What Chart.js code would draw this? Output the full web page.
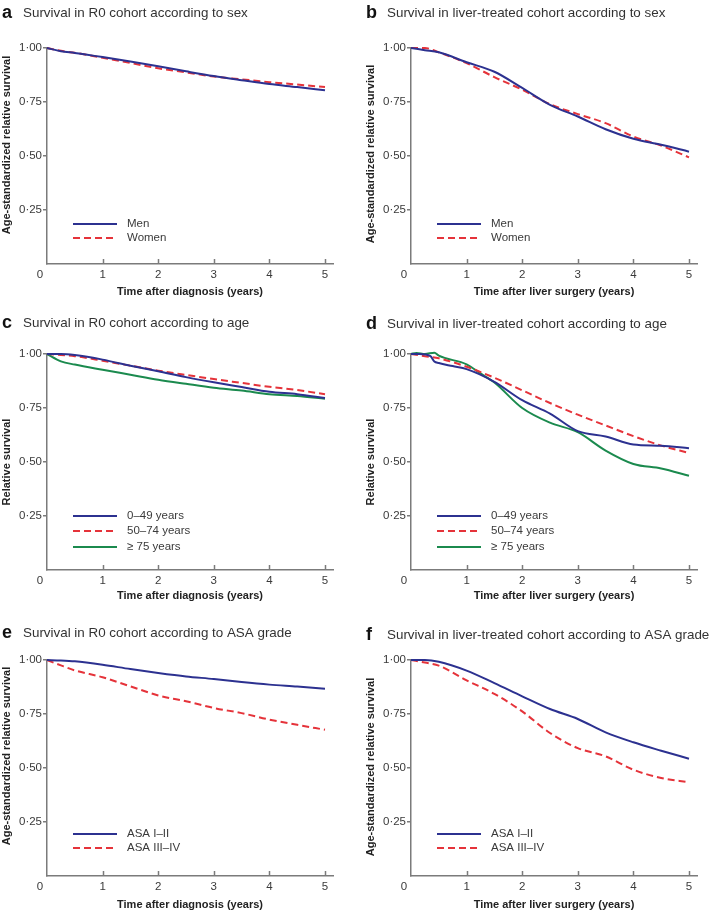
<!DOCTYPE html>
<html>
<head>
<meta charset="utf-8">
<script src="https://cdn.jsdelivr.net/npm/chart.js@4/dist/chart.umd.min.js"></script>
<style>
  html, body { margin: 0; padding: 0; background: #fff; }
  #wrap { position: relative; width: 709px; height: 912px; overflow: hidden; }
  canvas { position: absolute; }
</style>
</head>
<body>
<div id="wrap">
  <canvas id="pa" width="354" height="300" style="left:0px;top:0px;width:354px;height:300px"></canvas>
  <canvas id="pb" width="345" height="300" style="left:364px;top:0px;width:345px;height:300px"></canvas>
  <canvas id="pc" width="354" height="300" style="left:0px;top:306px;width:354px;height:300px"></canvas>
  <canvas id="pd" width="345" height="300" style="left:364px;top:306px;width:345px;height:300px"></canvas>
  <canvas id="pe" width="354" height="300" style="left:0px;top:612px;width:354px;height:300px"></canvas>
  <canvas id="pf" width="345" height="300" style="left:364px;top:612px;width:345px;height:300px"></canvas>
</div>
<script>
// ---------- data ----------
const TIME = [0, 0.25, 0.5, 1, 1.5, 2, 2.5, 3, 3.5, 4, 4.5, 5];
const X_TICKS = [1, 2, 3, 4, 5];
const Y_TICKS = [0, 0.25, 0.5, 0.75, 1.0];

// a: R0 cohort by sex
const A_MEN   = [1.00, 0.985, 0.977, 0.958, 0.937, 0.915, 0.892, 0.870, 0.851, 0.833, 0.819, 0.804];
const A_WOMEN = [1.00, 0.987, 0.978, 0.955, 0.931, 0.906, 0.887, 0.868, 0.855, 0.842, 0.831, 0.819];
// b: liver-treated cohort by sex
const B_MEN   = [1.00, 0.990, 0.980, 0.934, 0.890, 0.815, 0.737, 0.683, 0.624, 0.580, 0.552, 0.520];
const B_WOMEN = [1.00, 1.000, 0.980, 0.930, 0.865, 0.807, 0.740, 0.694, 0.652, 0.590, 0.548, 0.494];
// c: R0 cohort by age
const C_AGE_0_49  = [1.00, 1.000, 0.995, 0.974, 0.946, 0.920, 0.893, 0.869, 0.847, 0.825, 0.814, 0.796];
const C_AGE_50_74 = [1.00, 0.995, 0.990, 0.969, 0.946, 0.923, 0.903, 0.884, 0.866, 0.848, 0.833, 0.814];
const C_AGE_75    = [1.00, 0.966, 0.951, 0.927, 0.904, 0.881, 0.862, 0.844, 0.831, 0.814, 0.805, 0.793];
// d: liver-treated cohort by age
const D_TIME_0_49 = [0, 0.15, 0.35, 0.42, 0.5, 0.75, 1, 1.5, 2, 2.5, 3, 3.5, 4, 4.5, 5];
const D_AGE_0_49  = [1.00, 1.00, 0.99, 0.965, 0.958, 0.944, 0.930, 0.871, 0.786, 0.724, 0.643, 0.618, 0.581, 0.575, 0.564];
const D_AGE_50_74 = [1.00, 0.990, 0.980, 0.941, 0.890, 0.832, 0.773, 0.719, 0.669, 0.620, 0.576, 0.542];
const D_TIME_75   = [0, 0.1, 0.25, 0.42, 0.5, 1, 1.25, 1.5, 2, 2.5, 3, 3.5, 4, 4.5, 5];
const D_AGE_75    = [1.00, 1.005, 1.00, 1.006, 0.992, 0.952, 0.910, 0.868, 0.750, 0.682, 0.638, 0.553, 0.491, 0.470, 0.436];
// e: R0 cohort by ASA grade
const E_ASA_1_2 = [1.00, 0.998, 0.994, 0.978, 0.958, 0.940, 0.924, 0.912, 0.898, 0.886, 0.877, 0.867];
const E_ASA_3_4 = [1.00, 0.975, 0.952, 0.920, 0.878, 0.836, 0.809, 0.778, 0.754, 0.724, 0.700, 0.677];
// f: liver-treated cohort by ASA grade
const F_ASA_1_2 = [1.00, 1.000, 0.992, 0.951, 0.893, 0.832, 0.773, 0.727, 0.665, 0.619, 0.580, 0.543];
const F_ASA_3_4 = [1.00, 0.988, 0.974, 0.906, 0.843, 0.762, 0.662, 0.592, 0.554, 0.492, 0.454, 0.434];

const SEX_LABELS = ['Men', 'Women'];
const AGE_LABELS = ['0–49 years', '50–74 years', '≥ 75 years'];
const ASA_LABELS = ['ASA I–II', 'ASA III–IV'];

// ---------- styles ----------
const BLUE = '#2c3190', RED = '#e5333a', GREEN = '#1b8a4e';
const AXIS = '#7b7b7b', TEXT = '#3a3a3a';
const FONT = 'Arial, "Liberation Sans", Helvetica, sans-serif';

function pts(xs, ys) { return xs.map((x, i) => ({ x: x, y: ys[i] })); }
function ds(label, xs, ys, color, dashed) {
  return {
    label: label, data: pts(xs, ys), borderColor: color, backgroundColor: color,
    borderWidth: 2, borderDash: dashed ? [7, 4] : [], pointRadius: 0,
    cubicInterpolationMode: 'monotone', clip: false, fill: false
  };
}

const decor = {
  id: 'decor',
  afterDraw(chart, args, o) {
    const ctx = chart.ctx, ca = chart.chartArea;
    const xs = chart.scales.x;
    ctx.save();
    // inward x ticks
    ctx.strokeStyle = AXIS; ctx.lineWidth = 1.5;
    X_TICKS.forEach(v => {
      const px = Math.round(xs.getPixelForValue(v)) + 0.5;
      ctx.beginPath(); ctx.moveTo(px, ca.bottom); ctx.lineTo(px, ca.bottom - 5); ctx.stroke();
    });
    // origin label
    ctx.fillStyle = TEXT; ctx.font = '11.5px ' + FONT;
    ctx.textAlign = 'center'; ctx.textBaseline = 'middle';
    ctx.fillText('0', ca.left - 7, ca.bottom + 11);
    // panel letter + title
    ctx.textAlign = 'left'; ctx.textBaseline = 'middle';
    ctx.font = 'bold 18px ' + FONT; ctx.fillStyle = '#111';
    ctx.fillText(o.letter, 2, o.titleY);
    ctx.font = '13.4px ' + FONT; ctx.fillStyle = '#333';
    ctx.fillText(o.title, 23, o.titleY);
    // x title
    ctx.font = 'bold 11px ' + FONT; ctx.fillStyle = '#222';
    ctx.textAlign = 'center';
    ctx.fillText(o.xTitle, (ca.left + ca.right) / 2, o.xTitleY);
    // y title
    ctx.save();
    ctx.translate(7, o.yTitleY); ctx.rotate(-Math.PI / 2);
    ctx.fillText(o.yTitle, 0, 0);
    ctx.restore();
    // legend
    ctx.font = '11.5px ' + FONT; ctx.textAlign = 'left'; ctx.fillStyle = TEXT;
    chart.data.datasets.forEach((d, i) => {
      const y = ca.bottom + o.legendY[i];
      ctx.strokeStyle = d.borderColor; ctx.lineWidth = 2; ctx.setLineDash(d.borderDash);
      ctx.beginPath(); ctx.moveTo(ca.left + 26, y); ctx.lineTo(ca.left + 70, y); ctx.stroke();
      ctx.setLineDash([]);
      ctx.fillStyle = TEXT;
      ctx.fillText(d.label, ca.left + 80, y);
    });
    ctx.restore();
  }
};

function makeChart(id, width, datasets, dec) {
  new Chart(document.getElementById(id), {
    type: 'line',
    data: { datasets: datasets },
    plugins: [decor],
    options: {
      responsive: false, animation: false, devicePixelRatio: 1,
      layout: { padding: { top: 48, right: width - 333, left: 0, bottom: 0 } },
      plugins: { legend: { display: false }, tooltip: { enabled: false }, decor: dec },
      scales: {
        x: {
          type: 'linear', min: 0, max: 5.144,
          afterBuildTicks: s => { s.ticks = X_TICKS.map(v => ({ value: v })); },
          afterFit: s => { s.height = 36; },
          grid: { display: false, drawTicks: false, tickLength: 0 },
          border: { display: true, color: AXIS, width: 1.5 },
          ticks: { color: TEXT, font: { family: FONT, size: 11.5 }, padding: 4, maxRotation: 0, autoSkip: false,
                   callback: v => String(v) }
        },
        y: {
          type: 'linear', min: 0, max: 1,
          afterBuildTicks: s => { s.ticks = Y_TICKS.map(v => ({ value: v })); },
          afterFit: s => { s.width = 47; },
          grid: { display: true, drawOnChartArea: false, drawTicks: true, tickLength: 4, lineWidth: 1.5,
                  color: c => (c.tick && c.tick.value === 0) ? 'rgba(0,0,0,0)' : AXIS },
          border: { display: true, color: AXIS, width: 1.5 },
          ticks: { color: TEXT, font: { family: FONT, size: 11.5 }, padding: 1,
                   callback: v => v === 0 ? '' : v.toFixed(2).replace('.', '·') }
        }
      }
    }
  });
}

const Y_AGE = 'Age-standardized relative survival', Y_REL = 'Relative survival';
const X_DIAG = 'Time after diagnosis (years)', X_LIVER = 'Time after liver surgery (years)';

makeChart('pa', 354, [ds(SEX_LABELS[0], TIME, A_MEN, BLUE, false), ds(SEX_LABELS[1], TIME, A_WOMEN, RED, true)],
  { letter: 'a', title: 'Survival in R0 cohort according to sex', titleY: 13, xTitle: X_DIAG, xTitleY: 292,
    yTitle: Y_AGE, yTitleY: 145, legendY: [-40, -26] });
makeChart('pb', 345, [ds(SEX_LABELS[0], TIME, B_MEN, BLUE, false), ds(SEX_LABELS[1], TIME, B_WOMEN, RED, true)],
  { letter: 'b', title: 'Survival in liver-treated cohort according to sex', titleY: 13, xTitle: X_LIVER, xTitleY: 292,
    yTitle: Y_AGE, yTitleY: 154, legendY: [-40, -26] });
makeChart('pc', 354, [ds(AGE_LABELS[0], TIME, C_AGE_0_49, BLUE, false), ds(AGE_LABELS[1], TIME, C_AGE_50_74, RED, true),
                      ds(AGE_LABELS[2], TIME, C_AGE_75, GREEN, false)],
  { letter: 'c', title: 'Survival in R0 cohort according to age', titleY: 17, xTitle: X_DIAG, xTitleY: 290,
    yTitle: Y_REL, yTitleY: 156, legendY: [-54, -39, -23] });
makeChart('pd', 345, [ds(AGE_LABELS[0], D_TIME_0_49, D_AGE_0_49, BLUE, false), ds(AGE_LABELS[1], TIME, D_AGE_50_74, RED, true),
                      ds(AGE_LABELS[2], D_TIME_75, D_AGE_75, GREEN, false)],
  { letter: 'd', title: 'Survival in liver-treated cohort according to age', titleY: 18, xTitle: X_LIVER, xTitleY: 290,
    yTitle: Y_REL, yTitleY: 156, legendY: [-54, -39, -23] });
makeChart('pe', 354, [ds(ASA_LABELS[0], TIME, E_ASA_1_2, BLUE, false), ds(ASA_LABELS[1], TIME, E_ASA_3_4, RED, true)],
  { letter: 'e', title: 'Survival in R0 cohort according to ASA grade', titleY: 21, xTitle: X_DIAG, xTitleY: 293,
    yTitle: Y_AGE, yTitleY: 144, legendY: [-42, -28] });
makeChart('pf', 345, [ds(ASA_LABELS[0], TIME, F_ASA_1_2, BLUE, false), ds(ASA_LABELS[1], TIME, F_ASA_3_4, RED, true)],
  { letter: 'f', title: 'Survival in liver-treated cohort according to ASA grade', titleY: 23, xTitle: X_LIVER, xTitleY: 293,
    yTitle: Y_AGE, yTitleY: 155, legendY: [-42, -28] });
</script>
</body>
</html>
